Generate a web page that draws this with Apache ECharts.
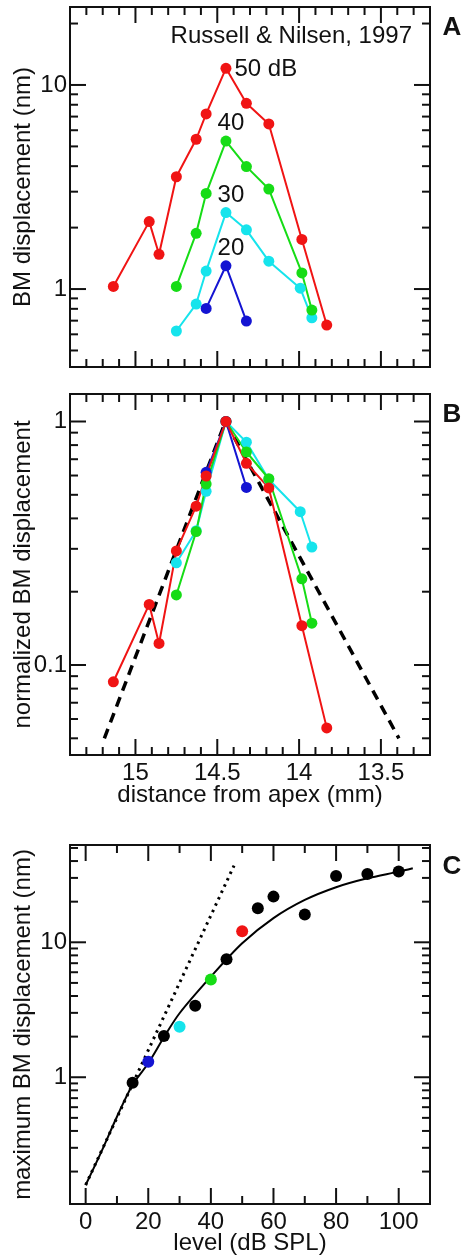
<!DOCTYPE html>
<html>
<head>
<meta charset="utf-8">
<script src="https://cdn.jsdelivr.net/npm/echarts@6/dist/echarts.min.js"></script>
<style>
  html, body { margin: 0; padding: 0; background: #ffffff; }
  #chart { width: 464px; height: 1258px; }
</style>
</head>
<body>
<div id="chart"></div>
<script>
// Basilar-membrane displacement along the cochlea (Russell & Nilsen, 1997)

// Stimulus levels (dB SPL) and their colours
const levels = [20, 30, 40, 50];
const levelColors = ['#1414d2', '#16e4ec', '#16dc16', '#f01414'];
const peakLabels = ['20', '30', '40', '50 dB'];

// Displacement profiles: distance from apex (mm) and BM displacement (nm)
const dist20 = [14.568, 14.447, 14.322];
const bm20   = [0.804, 1.30, 0.697];
const dist30 = [14.75, 14.629, 14.568, 14.447, 14.322, 14.185, 13.993, 13.922];
const bm30   = [0.623, 0.844, 1.225, 2.37, 1.95, 1.37, 1.01, 0.723];
const dist40 = [14.75, 14.629, 14.568, 14.447, 14.322, 14.185, 13.983, 13.922];
const bm40   = [1.03, 1.875, 2.94, 5.31, 3.98, 3.09, 1.20, 0.789];
const dist50 = [15.135, 14.916, 14.856, 14.75, 14.629, 14.568, 14.447, 14.322, 14.185, 13.983, 13.831];
const bm50   = [1.03, 2.14, 1.48, 3.55, 5.42, 7.21, 12.07, 8.13, 6.44, 1.75, 0.666];

// Triangular reference profile for the normalized plot
const templateDist = [15.19, 14.45, 13.39];
const templateNorm = [0.05, 1, 0.05];

// Maximum displacement versus level
const levelC = [15, 25, 35, 45, 55, 60, 70, 80, 90, 100];
const maxBmC = [0.91, 2.02, 3.39, 7.48, 17.9, 21.8, 16.1, 31.0, 32.1, 33.4];
// Compressive growth curve
const fitLevel = [0, 5, 10, 15, 20, 25, 30, 40, 50, 60, 70, 80, 90, 100, 104.5];
const fitBm    = [0.159, 0.28, 0.51, 0.88, 1.27, 1.98, 2.98, 5.56, 9.83, 15.1, 20.6, 25.6, 29.8, 33.4, 35.4];
// Linear growth line
const linLevel = [0, 47.4];
const linBm    = [0.159, 37];

// Tick positions
const distMajor = [13.5, 14, 14.5, 15];
const distMinor = [];
for (let k = 133; k <= 153; k++) if (k % 5 !== 0) distMinor.push(k / 10);
const levelMajor = [0, 20, 40, 60, 80, 100];
const levelMinor = [10, 30, 50, 70, 90];
const bmMajorA = [1, 10];
const bmMinorA = [0.5, 0.6, 0.7, 0.8, 0.9, 2, 3, 4, 5, 6, 7, 8, 9, 20];
const normMajor = [0.1, 1];
const normMinor = [0.05, 0.06, 0.07, 0.08, 0.09, 0.2, 0.3, 0.4, 0.5, 0.6, 0.7, 0.8, 0.9];
const bmMajorC = [1, 10];
const bmMinorC = [0.2, 0.3, 0.4, 0.5, 0.6, 0.7, 0.8, 0.9, 2, 3, 4, 5, 6, 7, 8, 9, 20, 30, 40, 50];

const FONT = '"Liberation Sans", Arial, Helvetica, sans-serif';
const INK = '#111111';
const MAJOR_LEN = 16, MINOR_LEN = 8;

const zip = (xs, ys) => xs.map((x, i) => [x, ys[i]]);
const fmtNum = v => String(+(+v).toPrecision(4));

const boxes = [
  { left: 70, top: 7, width: 360, height: 360 },
  { left: 70, top: 394, width: 360, height: 361 },
  { left: 70, top: 845, width: 360, height: 359 }
];
const grids = boxes.map(b => ({
  left: b.left, top: b.top, width: b.width, height: b.height,
  show: true, borderColor: INK, borderWidth: 2,
  containLabel: false, outerBoundsMode: 'none'
}));

const labelStyle = { fontFamily: FONT, fontSize: 24, color: INK };
const axisName = (text, gap) => ({
  name: text, nameLocation: 'middle', nameGap: gap, nameMoveOverlap: false,
  nameTextStyle: { fontFamily: FONT, fontSize: 24, color: INK }
});

function makeAxis(gridIndex, position, scale, labelValues, labelMargin, nameOpt) {
  return Object.assign({
    gridIndex, position, offset: 0,
    axisLine: { show: false, onZero: false },
    splitLine: { show: false },
    axisTick: { show: false },
    minorTick: { show: false },
    axisLabel: labelValues
      ? Object.assign({ show: true, customValues: labelValues, margin: labelMargin, formatter: fmtNum }, labelStyle)
      : { show: false }
  }, scale, nameOpt || {});
}

const distScale = { type: 'value', min: 13.2, max: 15.4, inverse: true };
const scaleA = { type: 'log', logBase: 10, min: 0.415, max: 24.1 };
const scaleB = { type: 'log', logBase: 10, min: 0.0427, max: 1.297 };
const scaleC = { type: 'log', logBase: 10, min: 0.115, max: 52.6 };
const levelScale = { type: 'value', min: -5, max: 110 };

const xAxes = [
  makeAxis(0, 'bottom', distScale, null),
  makeAxis(1, 'bottom', distScale, distMajor, 6, axisName('distance from apex (mm)', 28)),
  makeAxis(2, 'bottom', levelScale, levelMajor, 6, axisName('level (dB SPL)', 27))
];
const yAxes = [
  makeAxis(0, 'left', scaleA, bmMajorA, 3, axisName('BM displacement (nm)', 35)),
  makeAxis(1, 'left', scaleB, normMajor, 3, axisName('normalized BM displacement', 35)),
  makeAxis(2, 'left', scaleC, bmMajorC, 3, axisName('maximum BM displacement (nm)', 35))
];

const profiles = [
  { dist: dist20, bm: bm20 },
  { dist: dist30, bm: bm30 },
  { dist: dist40, bm: bm40 },
  { dist: dist50, bm: bm50 }
];
const drawOrder = [1, 2, 0, 3];   // cyan, green, blue, red on top
const peakOf = arr => Math.max.apply(null, arr);

const series = [];

// Panel A: profiles with level labels at the peaks
drawOrder.forEach(i => {
  const p = profiles[i];
  const peak = peakOf(p.bm);
  const labelRight = i === 3;
  series.push({
    type: 'line', xAxisIndex: 0, yAxisIndex: 0,
    color: levelColors[i],
    lineStyle: { width: 2, color: levelColors[i] },
    symbol: 'circle', symbolSize: 11,
    itemStyle: { color: levelColors[i], opacity: 1 },
    z: 3,
    data: zip(p.dist, p.bm).map(d => d[1] === peak ? {
      value: d,
      label: {
        show: true, formatter: peakLabels[i],
        position: labelRight ? 'right' : 'top',
        distance: labelRight ? 3 : 0,
        offset: labelRight ? [0, 1] : [5, 0],
        fontFamily: FONT, fontSize: 24, color: INK
      }
    } : d)
  });
});

// Panel B: reference triangle then normalized profiles
series.push({
  type: 'line', xAxisIndex: 1, yAxisIndex: 1,
  data: zip(templateDist, templateNorm),
  symbol: 'none', z: 2,
  lineStyle: { color: '#000000', width: 3.5, type: [10, 7] }
});
drawOrder.forEach(i => {
  const p = profiles[i];
  const peak = peakOf(p.bm);
  series.push({
    type: 'line', xAxisIndex: 1, yAxisIndex: 1,
    color: levelColors[i],
    lineStyle: { width: 2, color: levelColors[i] },
    symbol: 'circle', symbolSize: 11,
    itemStyle: { color: levelColors[i], opacity: 1 },
    z: 3,
    data: zip(p.dist, p.bm.map(v => v / peak))
  });
});

// Panel C: growth lines and maximum displacements
series.push({
  type: 'line', xAxisIndex: 2, yAxisIndex: 2,
  data: zip(linLevel, linBm), symbol: 'none', z: 2,
  lineStyle: { color: '#000000', width: 3, type: [2.5, 4.5] }
});
series.push({
  type: 'line', xAxisIndex: 2, yAxisIndex: 2,
  data: zip(fitLevel, fitBm), symbol: 'none', smooth: 0.3, z: 2,
  lineStyle: { color: '#000000', width: 2 }
});
series.push({
  type: 'scatter', xAxisIndex: 2, yAxisIndex: 2,
  data: zip(levelC, maxBmC), symbol: 'circle', symbolSize: 12, z: 3,
  itemStyle: { color: '#000000', opacity: 1 }
});
series.push({
  type: 'scatter', xAxisIndex: 2, yAxisIndex: 2,
  symbol: 'circle', symbolSize: 12, z: 3,
  data: levels.map((lv, i) => ({
    value: [lv, peakOf(profiles[i].bm)],
    itemStyle: { color: levelColors[i], opacity: 1 }
  }))
});

const textEl = (text, x, y, align, size, weight) => ({
  type: 'text', x, y, silent: true, z: 10,
  style: { text, fill: INK, font: `${weight || 'normal'} ${size}px ${FONT}`,
           textAlign: align, textVerticalAlign: 'middle' }
});

const chart = echarts.init(document.getElementById('chart'), null, { renderer: 'canvas' });
chart.setOption({
  animation: false,
  backgroundColor: '#ffffff',
  grid: grids,
  xAxis: xAxes,
  yAxis: yAxes,
  series
});

// Inside ticks on all four sides of each plot box, positioned through the axis scales
const tickEls = [];
function addTicks(gi, dim, values, len, ref) {
  const box = boxes[gi];
  const l = box.left, r = box.left + box.width, t = box.top, b = box.top + box.height;
  values.forEach(v => {
    const pt = chart.convertToPixel({ gridIndex: gi }, dim === 'x' ? [v, ref] : [ref, v]);
    const segs = dim === 'x'
      ? [[pt[0], b, pt[0], b - len], [pt[0], t, pt[0], t + len]]
      : [[l, pt[1], l + len, pt[1]], [r, pt[1], r - len, pt[1]]];
    segs.forEach(s => tickEls.push({
      type: 'line', silent: true, z: 8,
      shape: { x1: s[0], y1: s[1], x2: s[2], y2: s[3] },
      style: { stroke: INK, lineWidth: 2 }
    }));
  });
}
addTicks(0, 'x', distMajor, MAJOR_LEN, scaleA.min);
addTicks(0, 'x', distMinor, MINOR_LEN, scaleA.min);
addTicks(0, 'y', bmMajorA, MAJOR_LEN, 14);
addTicks(0, 'y', bmMinorA, MINOR_LEN, 14);
addTicks(1, 'x', distMajor, MAJOR_LEN, scaleB.min);
addTicks(1, 'x', distMinor, MINOR_LEN, scaleB.min);
addTicks(1, 'y', normMajor, MAJOR_LEN, 14);
addTicks(1, 'y', normMinor, MINOR_LEN, 14);
addTicks(2, 'x', levelMajor, MAJOR_LEN, scaleC.min);
addTicks(2, 'x', levelMinor, MINOR_LEN, scaleC.min);
addTicks(2, 'y', bmMajorC, MAJOR_LEN, 0);
addTicks(2, 'y', bmMinorC, MINOR_LEN, 0);

chart.setOption({
  graphic: [
    textEl('Russell & Nilsen, 1997', 412, 36.5, 'right', 24),
    textEl('A', 452, 28, 'center', 26, 'bold'),
    textEl('B', 452, 415, 'center', 26, 'bold'),
    textEl('C', 452, 867, 'center', 26, 'bold')
  ].concat(tickEls)
});
</script>
</body>
</html>
